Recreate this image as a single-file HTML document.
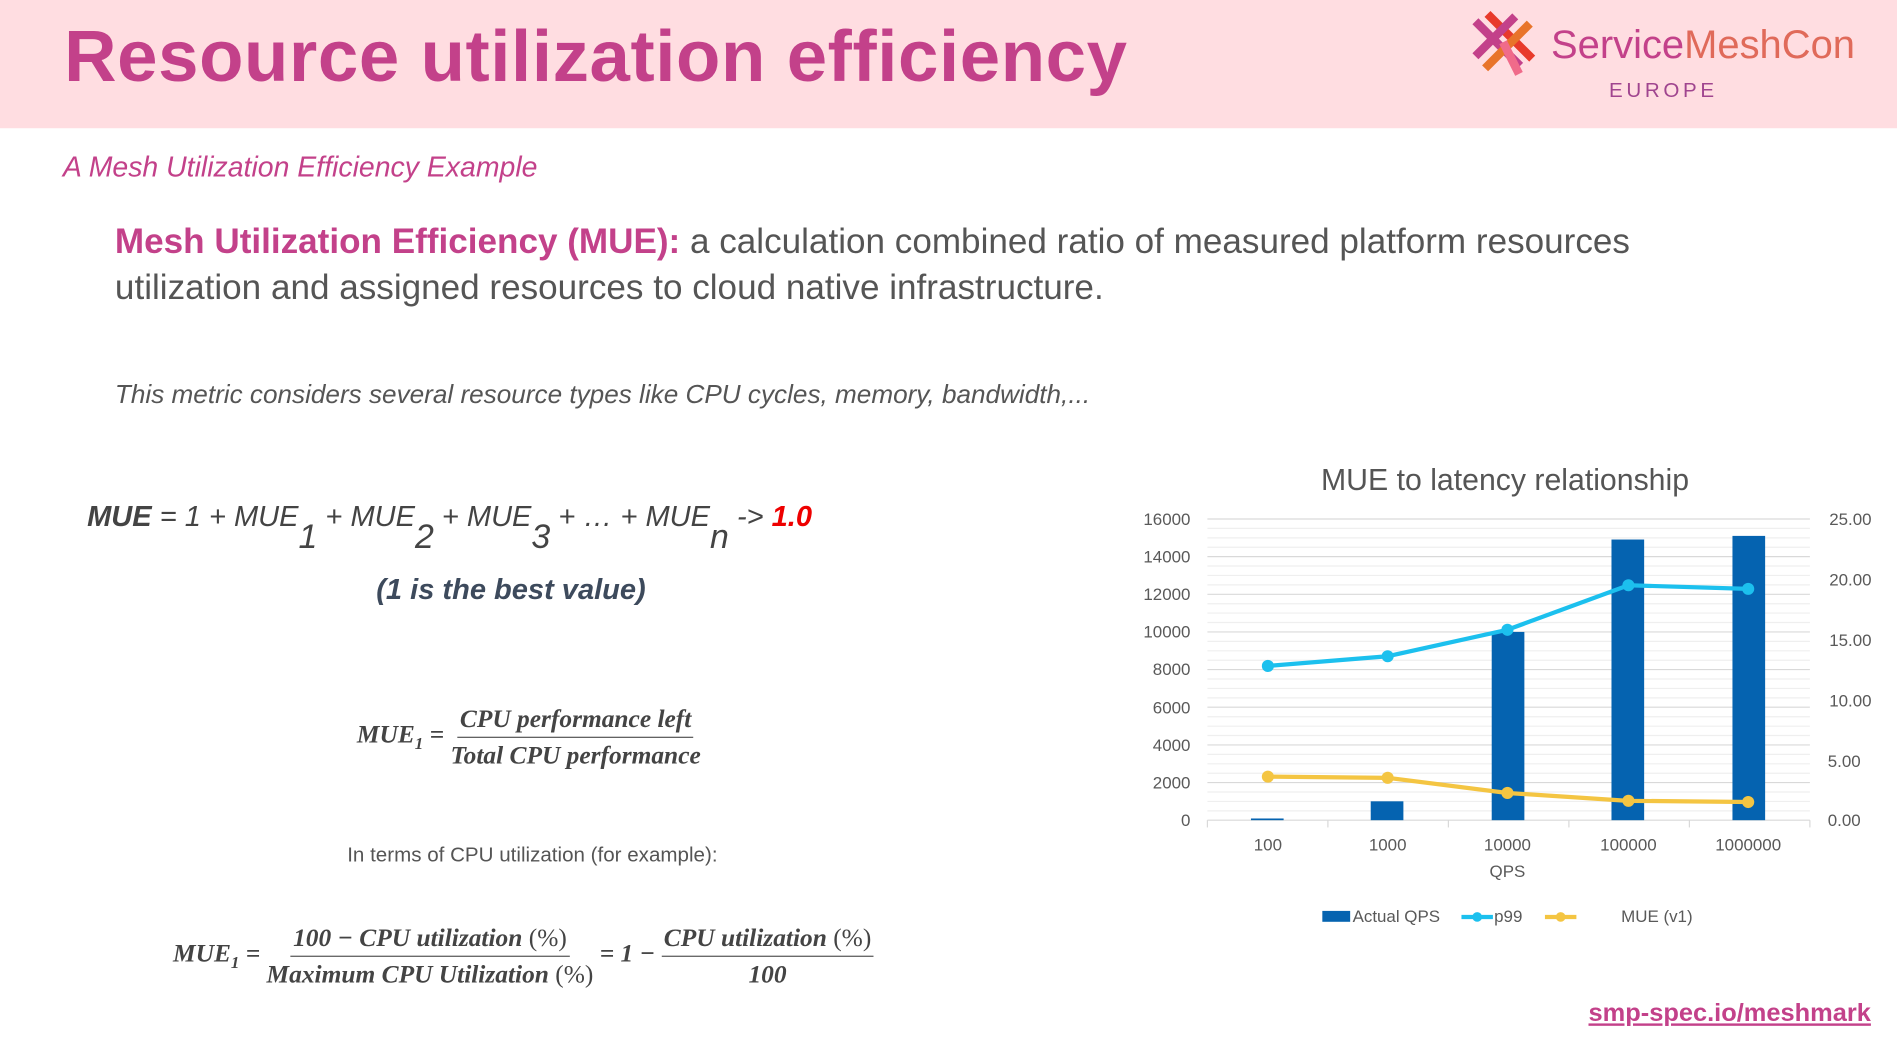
<!DOCTYPE html>
<html><head><meta charset="utf-8"><style>
html,body{margin:0;padding:0;background:#fff;overflow:hidden}
#w{position:absolute;left:0;top:0;width:1568px;height:868px;transform:scale(1.20982,1.2097);transform-origin:0 0;font-family:"Liberation Sans",sans-serif}
.a{position:absolute;white-space:nowrap}
.ser{font-family:"Liberation Serif",serif;font-style:italic;font-weight:bold;color:#444}
.fr{display:inline-flex;flex-direction:column;align-items:center;vertical-align:middle;line-height:28px}
.fr .n{border-bottom:1.5px solid #555;padding:0 2px 1px}
</style></head><body><div id="w">
<div class="a" style="left:0;top:0;width:1568px;height:106px;background:#ffdde1"></div>
<div class="a" style="left:53px;top:12px;font-size:60px;font-weight:bold;color:#c3418a;letter-spacing:0.5px">Resource utilization efficiency</div>
<svg class="a" style="left:1214px;top:8px" width="60" height="58" viewBox="0 0 60 58">
<g stroke-width="7" stroke-linecap="square">
<line x1="8" y1="12" x2="40" y2="44" stroke="#c3418a"/>
<line x1="18" y1="6" x2="50" y2="38" stroke="#e83a2b"/>
<line x1="48" y1="14" x2="16" y2="46" stroke="#e8742a"/>
<line x1="36" y1="8" x2="8" y2="36" stroke="#c3418a"/>
<line x1="30" y1="30" x2="40" y2="50" stroke="#f06b8a"/>
</g></svg>
<div class="a" style="left:1282px;top:18px;font-size:33px;color:#e06a5a"><span style="color:#c3418a">Service</span>MeshCon</div>
<div class="a" style="left:1330px;top:65px;font-size:17px;color:#a0458f;letter-spacing:3px">EUROPE</div>
<div class="a" style="left:52px;top:125px;font-size:23.5px;font-style:italic;color:#c3418a">A Mesh Utilization Efficiency Example</div>
<div class="a" style="left:95px;top:181px;font-size:29px;color:#555;line-height:38px"><b style="color:#c3418a">Mesh Utilization Efficiency (MUE):</b> a calculation combined ratio of measured platform resources<br>utilization and assigned resources to cloud native infrastructure.</div>
<div class="a" style="left:95px;top:313px;font-size:21.6px;font-style:italic;color:#555">This metric considers several resource types like CPU cycles, memory, bandwidth,...</div>
<div class="a" style="left:72px;top:414px;font-size:24px;font-style:italic;color:#444"><b>MUE</b> = 1 + MUE<sub style="font-size:28px;position:relative;top:12px">1</sub> + MUE<sub style="font-size:28px;position:relative;top:12px">2</sub> + MUE<sub style="font-size:28px;position:relative;top:12px">3</sub> + … + MUE<sub style="font-size:28px;position:relative;top:12px">n</sub> -&gt; <b style="color:#e00">1.0</b></div>
<div class="a" style="left:311px;top:474px;font-size:24px;font-style:italic;font-weight:bold;color:#3d4a5c">(1 is the best value)</div>
<div class="a ser" style="left:295px;top:580px;font-size:21px">MUE<sub style="font-size:14px">1</sub> = <span class="fr"><span class="n">CPU performance left</span><span>Total CPU performance</span></span></div>
<div class="a" style="left:287px;top:697px;font-size:17px;color:#555">In terms of CPU utilization (for example):</div>
<div class="a ser" style="left:143px;top:761px;font-size:21px">MUE<sub style="font-size:14px">1</sub> = <span class="fr"><span class="n">100 − CPU utilization <span style="font-weight:normal;font-style:normal">(%)</span></span><span>Maximum CPU Utilization <span style="font-weight:normal;font-style:normal">(%)</span></span></span> = 1 − <span class="fr"><span class="n">CPU utilization <span style="font-weight:normal;font-style:normal">(%)</span></span><span>100</span></span></div>
<div class="a" style="left:1313px;top:826px;font-size:21px;font-weight:bold;color:#c3418a;text-decoration:underline">smp-spec.io/meshmark</div>
<svg class="a" style="left:0;top:0" width="1568" height="868" font-family="Liberation Sans,sans-serif">
<text x="1244" y="405" font-size="25" fill="#555" text-anchor="middle">MUE to latency relationship</text>
<g stroke="#efefef" stroke-width="1">
<line x1="998" x2="1496" y1="436.8" y2="436.8"/><line x1="998" x2="1496" y1="444.6" y2="444.6"/><line x1="998" x2="1496" y1="452.4" y2="452.4"/>
<line x1="998" x2="1496" y1="467.9" y2="467.9"/><line x1="998" x2="1496" y1="475.7" y2="475.7"/><line x1="998" x2="1496" y1="483.5" y2="483.5"/>
<line x1="998" x2="1496" y1="499.1" y2="499.1"/><line x1="998" x2="1496" y1="506.8" y2="506.8"/><line x1="998" x2="1496" y1="514.6" y2="514.6"/>
<line x1="998" x2="1496" y1="530.2" y2="530.2"/><line x1="998" x2="1496" y1="538" y2="538"/><line x1="998" x2="1496" y1="545.8" y2="545.8"/>
<line x1="998" x2="1496" y1="561.3" y2="561.3"/><line x1="998" x2="1496" y1="569.1" y2="569.1"/><line x1="998" x2="1496" y1="576.9" y2="576.9"/>
<line x1="998" x2="1496" y1="592.5" y2="592.5"/><line x1="998" x2="1496" y1="600.3" y2="600.3"/><line x1="998" x2="1496" y1="608" y2="608"/>
<line x1="998" x2="1496" y1="623.6" y2="623.6"/><line x1="998" x2="1496" y1="631.4" y2="631.4"/><line x1="998" x2="1496" y1="639.2" y2="639.2"/>
<line x1="998" x2="1496" y1="654.7" y2="654.7"/><line x1="998" x2="1496" y1="662.5" y2="662.5"/><line x1="998" x2="1496" y1="670.3" y2="670.3"/>
</g>
<g stroke="#d9d9d9" stroke-width="1">
<line x1="998" x2="1496" y1="429" y2="429"/><line x1="998" x2="1496" y1="460.1" y2="460.1"/><line x1="998" x2="1496" y1="491.3" y2="491.3"/><line x1="998" x2="1496" y1="522.4" y2="522.4"/><line x1="998" x2="1496" y1="553.5" y2="553.5"/><line x1="998" x2="1496" y1="584.6" y2="584.6"/><line x1="998" x2="1496" y1="615.8" y2="615.8"/><line x1="998" x2="1496" y1="646.9" y2="646.9"/>
<line x1="998" x2="1496" y1="678" y2="678"/>
<line x1="998" x2="998" y1="678" y2="684"/><line x1="1097.6" x2="1097.6" y1="678" y2="684"/><line x1="1197.2" x2="1197.2" y1="678" y2="684"/><line x1="1296.8" x2="1296.8" y1="678" y2="684"/><line x1="1396.4" x2="1396.4" y1="678" y2="684"/><line x1="1496" x2="1496" y1="678" y2="684"/>
</g>
<g fill="#595959" font-size="14" text-anchor="end">
<text x="984" y="434">16000</text><text x="984" y="465">14000</text><text x="984" y="496">12000</text><text x="984" y="527">10000</text><text x="984" y="558">8000</text><text x="984" y="590">6000</text><text x="984" y="621">4000</text><text x="984" y="652">2000</text><text x="984" y="683">0</text>
</g>
<g fill="#595959" font-size="14" text-anchor="end">
<text x="1547" y="434">25.00</text><text x="1547" y="484">20.00</text><text x="1547" y="534">15.00</text><text x="1547" y="584">10.00</text><text x="1538" y="634">5.00</text><text x="1538" y="683">0.00</text>
</g>
<g fill="#595959" font-size="14" text-anchor="middle">
<text x="1048" y="703">100</text><text x="1147" y="703">1000</text><text x="1246" y="703">10000</text><text x="1346" y="703">100000</text><text x="1445" y="703">1000000</text>
<text x="1246" y="725">QPS</text>
</g>
<g fill="#0563b0">
<rect x="1034" y="676.6" width="27" height="1.4"/>
<rect x="1133" y="662.4" width="27" height="15.6"/>
<rect x="1233" y="522.4" width="27" height="155.6"/>
<rect x="1332" y="446" width="27" height="232"/>
<rect x="1432" y="443" width="27" height="235"/>
</g>
<polyline fill="none" stroke="#1cc0ee" stroke-width="3.5" points="1048,550.5 1147,542.5 1246,520.6 1346,483.8 1445,486.8"/>
<g fill="#1cc0ee"><circle cx="1048" cy="550.5" r="5"/><circle cx="1147" cy="542.5" r="5"/><circle cx="1246" cy="520.6" r="5"/><circle cx="1346" cy="483.8" r="5"/><circle cx="1445" cy="486.8" r="5"/></g>
<polyline fill="none" stroke="#f4c542" stroke-width="3.5" points="1048,642 1147,643 1246,655.5 1346,662 1445,663"/>
<g fill="#f4c542"><circle cx="1048" cy="642" r="5"/><circle cx="1147" cy="643" r="5"/><circle cx="1246" cy="655.5" r="5"/><circle cx="1346" cy="662" r="5"/><circle cx="1445" cy="663" r="5"/></g>
<rect x="1093" y="753" width="23" height="9" fill="#0563b0"/>
<text x="1118" y="762" font-size="14" fill="#595959">Actual QPS</text>
<line x1="1208" x2="1234" y1="758" y2="758" stroke="#1cc0ee" stroke-width="3.5"/><circle cx="1221" cy="758" r="4" fill="#1cc0ee"/>
<text x="1235" y="762" font-size="14" fill="#595959">p99</text>
<line x1="1277" x2="1303" y1="758" y2="758" stroke="#f4c542" stroke-width="3.5"/><circle cx="1290" cy="758" r="4" fill="#f4c542"/>
<text x="1340" y="762" font-size="14" fill="#595959">MUE (v1)</text>
</svg>
</div></body></html>
